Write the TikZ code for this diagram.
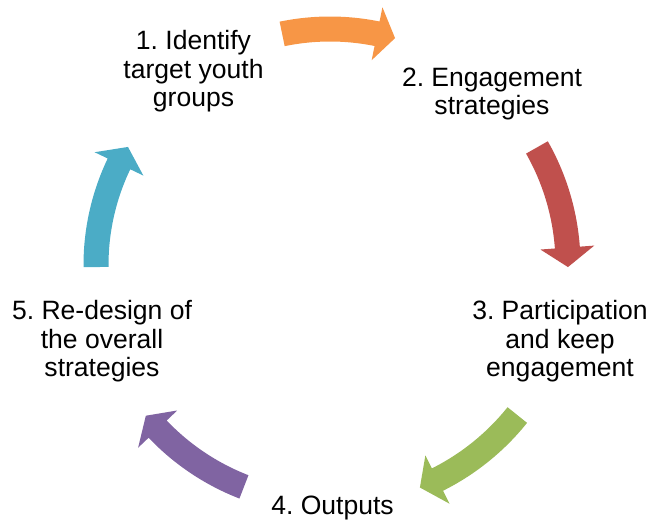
\documentclass[tikz,border=0pt]{standalone}
\usepackage{fontspec}
\setmainfont{Liberation Sans}
\frenchspacing
\definecolor{corange}{HTML}{F79646}
\definecolor{cred}{HTML}{C0504D}
\definecolor{cgreen}{HTML}{9BBB59}
\definecolor{cpurple}{HTML}{8064A2}
\definecolor{ccyan}{HTML}{4BACC6}
\newcommand{\cycarrow}[5]{%
  \fill[#1] (#3:{#2-12.5}) arc[start angle=#3, end angle=#4, radius={#2-12.5}]
    -- (#4:{#2-27}) -- (#5:#2) -- (#4:{#2+27}) -- (#4:{#2+12.5})
    arc[start angle=#4, end angle=#3, radius={#2+12.5}] -- cycle;}
\begin{document}
\begin{tikzpicture}[x=0.75pt,y=0.75pt,
  lbl/.style={align=center,inner sep=0pt,anchor=base,font=\fontsize{19.9}{21.4}\selectfont\frenchspacing}]
\useasboundingbox (0,0) rectangle (653,524);
\begin{scope}[shift={(330,259)}]
  \cycarrow{corange}{236}{101.7}{78.5}{74}
  \cycarrow{cred}{238}{29.6}{4.2}{-0.5}
  \cycarrow{cgreen}{240}{-38.7}{-63.4}{-68}
  \cycarrow{cpurple}{238}{-111.2}{-136.4}{-140.7}
  \cycarrow{ccyan}{234}{180.5}{154.4}{149.7}
\end{scope}
\node[lbl] (n1) at (193.5,417) {1. Identify\\target youth\\groups};
\node[lbl] (n2) at (492,409) {2. Engagement\\strategies};
\node[lbl] (n3) at (560,147) {3. Participation\\and keep\\engagement};
\node[lbl] (n4) at (332.5,9) {4. Outputs};
\node[lbl] (n5) at (102,147) {5. Re-design of\\the overall\\strategies};
\end{tikzpicture}
\end{document}
